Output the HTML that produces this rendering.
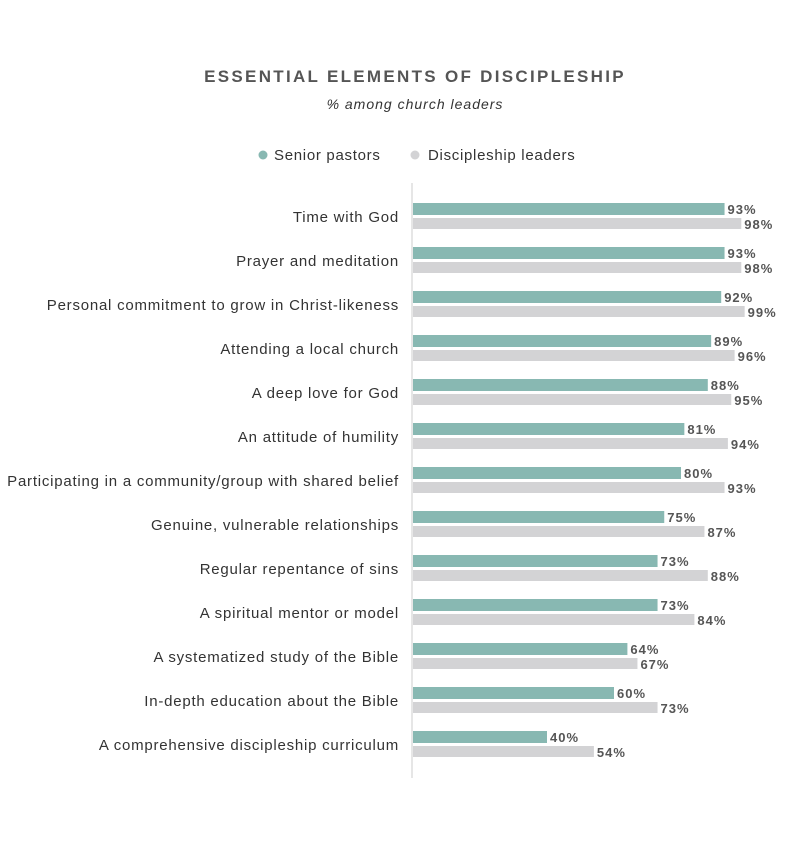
<!DOCTYPE html>
<html><head><style>
body{margin:0;background:#fff;font-family:"Liberation Sans",sans-serif;}
svg text{font-family:"Liberation Sans",sans-serif;}
</style></head><body>
<svg width="800" height="849" xmlns="http://www.w3.org/2000/svg">
<text x="415" y="82" text-anchor="middle" font-size="17" font-weight="bold" fill="#555" letter-spacing="2.3">ESSENTIAL ELEMENTS OF DISCIPLESHIP</text>
<text x="415" y="109" text-anchor="middle" font-size="14" font-style="italic" fill="#333" letter-spacing="1">% among church leaders</text>
<circle cx="263" cy="155" r="4.5" fill="#88b8b2"/>
<text x="274" y="160" font-size="15" fill="#333" letter-spacing="0.7">Senior pastors</text>
<circle cx="415" cy="155" r="4.5" fill="#d3d3d5"/>
<text x="428" y="160" font-size="15" fill="#333" letter-spacing="0.7">Discipleship leaders</text>
<line x1="412" y1="183" x2="412" y2="778" stroke="#ddd" stroke-width="1.5"/>
<g id="bars"></g>
</svg>
<script>
const d=[["Time with God",93,98],["Prayer and meditation",93,98],["Personal commitment to grow in Christ-likeness",92,99],["Attending a local church",89,96],["A deep love for God",88,95],["An attitude of humility",81,94],["Participating in a community/group with shared belief",80,93],["Genuine, vulnerable relationships",75,87],["Regular repentance of sins",73,88],["A spiritual mentor or model",73,84],["A systematized study of the Bible",64,67],["In-depth education about the Bible",60,73],["A comprehensive discipleship curriculum",40,54]];
let s="";const k=3.35;
d.forEach((r,i)=>{const y=203+i*44;const w1=r[1]*k,w2=r[2]*k;
s+=`<text x="399" y="${y+19}" text-anchor="end" font-size="15" fill="#333" letter-spacing="0.77">${r[0]}</text>`;
s+=`<rect x="413" y="${y}" width="${w1}" height="12" fill="#88b8b2"/>`;
s+=`<rect x="413" y="${y+15}" width="${w2}" height="11" fill="#d3d3d5"/>`;
s+=`<text x="${416+w1}" y="${y+11}" font-size="13" font-weight="bold" fill="#555" letter-spacing="1">${r[1]}%</text>`;
s+=`<text x="${416+w2}" y="${y+26}" font-size="13" font-weight="bold" fill="#555" letter-spacing="1">${r[2]}%</text>`;});
document.getElementById("bars").innerHTML=s;
</script>
</body></html>
